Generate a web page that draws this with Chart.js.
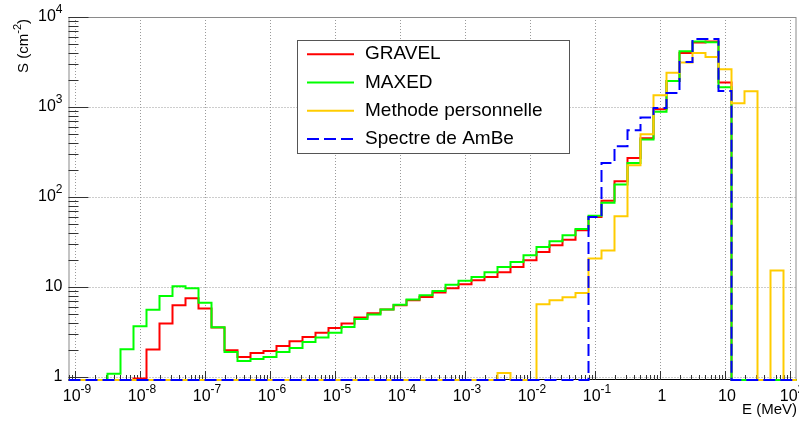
<!DOCTYPE html>
<html lang="fr">
<head>
<meta charset="UTF-8">
<title>Spectre neutronique</title>
<script src="https://cdn.jsdelivr.net/npm/chart.js"></script>
<style>
  html, body { margin: 0; padding: 0; background: #fff; }
  #wrap { width: 799px; height: 424px; }
</style>
</head>
<body>
<div id="wrap"><canvas id="spectre" width="799" height="424"></canvas></div>
<script>
// 56 bins, 0.2 decade wide, first edge at 10^-9.1 MeV
const binFirstExp = -9.1;
const binStepExp = 0.2;
const nBins = 56;

// bin contents (cm^-2), 0 = empty bin
const gravel = [
  0, 0, 0, 0, 0, 0.96, 2.02, 3.92, 6.27, 7.5,
  5.76, 3.54, 1.98, 1.67, 1.85, 1.94, 2.21, 2.49, 2.78, 3.11,
  3.5, 3.92, 4.57, 5.1, 5.61, 6.27, 7.13, 7.74, 8.66, 9.67,
  10.7, 11.9, 12.9, 14.6, 16.7, 19.8, 24.5, 29.1, 33.6, 42.7,
  60, 91, 150, 272, 450, 945, 1940, 3980, 5200, 5350,
  1870, 0, 0, 0, 0, 0
];
const maxed = [
  0, 0, 0, 1.09, 2.03, 3.66, 5.6, 7.94, 10.2, 9.7,
  6.7, 3.56, 1.9, 1.51, 1.58, 1.67, 1.9, 2.1, 2.45, 2.74,
  3.11, 3.59, 4.41, 4.94, 5.61, 6.37, 7.24, 8.08, 9.0, 10.6,
  11.7, 12.9, 14.6, 16.7, 18.9, 22.5, 27.8, 32.2, 37.7, 44.1,
  62, 86.5, 138, 239, 436, 883, 1940, 4170, 5330, 5250,
  1656, 0, 0, 0, 0, 0
];
const perso = [
  0, 0, 0, 0, 0, 0, 0, 0, 0, 0,
  0, 0, 0, 0, 0, 0, 0, 0, 0, 0,
  0, 0, 0, 0, 0, 0, 0, 0, 0, 0,
  0, 0, 0, 1.11, 0, 0, 6.43, 7.13, 7.68, 8.58,
  20.7, 25.5, 61, 226, 497, 1350, 2400, 3120, 3980, 3590,
  2620, 1100, 1500, 0, 15.3, 0
];
const ambe = [
  0, 0, 0, 0, 0, 0, 0, 0, 0, 0,
  0, 0, 0, 0, 0, 0, 0, 0, 0, 0,
  0, 0, 0, 0, 0, 0, 0, 0, 0, 0,
  0, 0, 0, 0, 0, 0, 0, 0, 0, 0,
  60, 239, 366, 552, 764, 976, 1433, 3160, 5710, 5710,
  1505, 0, 0, 0, 0, 0
];

const legendNames = ['GRAVEL', 'MAXED', 'Methode personnelle', 'Spectre de AmBe'];
const xDecades = [-9, -8, -7, -6, -5, -4, -3, -2, -1, 0, 1, 2];
const yDecades = [0, 1, 2, 3, 4];

const xMin = Math.pow(10, -9.1);
const xMax = Math.pow(10, 2.1);
const yMin = Math.pow(10, -1 / 30);
const yMax = 1e4;

const FONT = '"Liberation Sans", Arial, Helvetica, sans-serif';

// each bin becomes two points (left edge, right edge) so the line draws as a histogram
function histPoints(values) {
  const pts = [];
  for (let i = 0; i < nBins; i++) {
    const lo = Math.pow(10, binFirstExp + binStepExp * i);
    const hi = Math.pow(10, binFirstExp + binStepExp * (i + 1));
    const v = values[i] > yMin ? values[i] : yMin;
    pts.push({ x: lo, y: v }, { x: hi, y: v });
  }
  return pts;
}

function histDataset(label, values, color, order, dash) {
  return {
    label: label,
    data: histPoints(values),
    borderColor: color,
    backgroundColor: color,
    borderWidth: 2,
    borderDash: dash || [],
    borderJoinStyle: 'miter',
    pointRadius: 0,
    tension: 0,
    fill: false,
    clip: 3,
    order: order
  };
}

// draws "10" with a raised exponent; exp 0 -> "1", exp 1 -> "10"
function powerLabel(ctx, exp, x, y, align, size) {
  const base = exp === 0 ? '1' : '10';
  const sup = (exp === 0 || exp === 1) ? '' : String(exp);
  const supSize = Math.round(size * 0.75);
  ctx.font = size + 'px ' + FONT;
  const wb = ctx.measureText(base).width;
  ctx.font = supSize + 'px ' + FONT;
  const ws = sup ? ctx.measureText(sup).width : 0;
  const total = wb + ws;
  let x0 = align === 'right' ? x - total : x - total / 2;
  ctx.textAlign = 'left';
  ctx.textBaseline = 'middle';
  ctx.font = size + 'px ' + FONT;
  ctx.fillText(base, x0, y);
  if (sup) {
    ctx.font = supSize + 'px ' + FONT;
    ctx.fillText(sup, x0 + wb, y - size * 0.45);
  }
}

const rootFrame = {
  id: 'rootFrame',
  beforeDatasetsDraw(chart) {
    const { ctx, chartArea: a, scales: { x, y } } = chart;
    ctx.save();
    // dotted grid at each decade
    ctx.strokeStyle = '#9a9a9a';
    ctx.lineWidth = 1;
    ctx.setLineDash([1, 2]);
    xDecades.forEach(d => {
      const px = Math.round(x.getPixelForValue(Math.pow(10, d))) + 0.5;
      ctx.beginPath(); ctx.moveTo(px, a.top); ctx.lineTo(px, a.bottom); ctx.stroke();
    });
    yDecades.forEach(d => {
      const py = Math.round(y.getPixelForValue(Math.pow(10, d))) + 0.5;
      ctx.beginPath(); ctx.moveTo(a.left, py); ctx.lineTo(a.right, py); ctx.stroke();
    });
    ctx.setLineDash([]);

    // frame
    ctx.strokeStyle = '#8a8a8a';
    ctx.strokeRect(a.left + 0.5, a.top + 0.5, a.right - a.left - 1, a.bottom - a.top - 1);
    ctx.strokeStyle = '#000';
    ctx.beginPath(); ctx.moveTo(a.left, a.bottom - 0.5); ctx.lineTo(a.right, a.bottom - 0.5); ctx.stroke();

    // tick marks, drawn inward
    ctx.strokeStyle = '#333';
    for (let d = -10; d <= 2; d++) {
      for (let m = 1; m <= 9; m++) {
        const v = m * Math.pow(10, d);
        if (v < xMin || v > xMax) continue;
        const px = Math.round(x.getPixelForValue(v)) + 0.5;
        const len = m === 1 ? 9 : 5;
        ctx.beginPath(); ctx.moveTo(px, a.bottom); ctx.lineTo(px, a.bottom - len); ctx.stroke();
      }
    }
    for (let d = -1; d <= 4; d++) {
      for (let m = 1; m <= 9; m++) {
        const v = m * Math.pow(10, d);
        if (v < yMin || v > yMax) continue;
        const py = Math.round(y.getPixelForValue(v)) + 0.5;
        const len = m === 1 ? 20 : 10;
        ctx.beginPath(); ctx.moveTo(a.left, py); ctx.lineTo(a.left + len, py); ctx.stroke();
      }
    }
    ctx.restore();
  },
  afterDraw(chart) {
    const { ctx, chartArea: a, scales: { x, y } } = chart;
    ctx.save();
    ctx.fillStyle = '#000';

    // tick labels
    xDecades.forEach(d => powerLabel(ctx, d, x.getPixelForValue(Math.pow(10, d)) + 2, a.bottom + 17, 'center', 16));
    yDecades.forEach(d => powerLabel(ctx, d, a.left - 6, y.getPixelForValue(Math.pow(10, d)), 'right', 16));

    // axis titles
    ctx.font = '15px ' + FONT;
    ctx.textAlign = 'right';
    ctx.textBaseline = 'middle';
    ctx.fillText('E (MeV)', 797, a.bottom + 30);

    ctx.save();
    ctx.translate(24, 0);
    ctx.rotate(-Math.PI / 2);
    const p1 = 'S (cm', p2 = '-2', p3 = ')';
    ctx.font = '15px ' + FONT;
    const w1 = ctx.measureText(p1).width, w3 = ctx.measureText(p3).width;
    ctx.font = '11px ' + FONT;
    const w2 = ctx.measureText(p2).width;
    let u = -(19 + w1 + w2 + w3);
    ctx.textAlign = 'left';
    ctx.font = '15px ' + FONT;
    ctx.fillText(p1, u, 0);
    ctx.font = '11px ' + FONT;
    ctx.fillText(p2, u + w1, -6);
    ctx.font = '15px ' + FONT;
    ctx.fillText(p3, u + w1 + w2, 0);
    ctx.restore();

    // legend box
    const box = { l: 297, t: 40, r: 569, b: 153 };
    ctx.fillStyle = '#fff';
    ctx.fillRect(box.l, box.t, box.r - box.l, box.b - box.t);
    ctx.strokeStyle = '#555';
    ctx.lineWidth = 1;
    ctx.strokeRect(box.l + 0.5, box.t + 0.5, box.r - box.l, box.b - box.t);
    const rowH = (box.b - box.t) / legendNames.length;
    chart.data.datasets.forEach((ds, i) => {
      const ry = box.t + rowH * (i + 0.5);
      ctx.strokeStyle = ds.borderColor;
      ctx.lineWidth = 2;
      ctx.setLineDash(ds.borderDash);
      ctx.beginPath(); ctx.moveTo(307, ry); ctx.lineTo(354, ry); ctx.stroke();
      ctx.setLineDash([]);
      ctx.fillStyle = '#000';
      ctx.font = '19px ' + FONT;
      ctx.textAlign = 'left';
      ctx.textBaseline = 'middle';
      ctx.fillText(ds.label, 365, ry);
    });
    ctx.restore();
  }
};

new Chart(document.getElementById('spectre'), {
  type: 'line',
  data: {
    datasets: [
      histDataset(legendNames[0], gravel, '#ff0000', 4),
      histDataset(legendNames[1], maxed, '#00ff00', 3),
      histDataset(legendNames[2], perso, '#ffcc00', 2),
      histDataset(legendNames[3], ambe, '#0000ff', 1, [12, 5])
    ]
  },
  options: {
    responsive: false,
    animation: false,
    layout: { padding: { left: 0, right: 2.5, top: 17, bottom: 0 } },
    plugins: { legend: { display: false }, tooltip: { enabled: false } },
    scales: {
      x: {
        type: 'logarithmic', min: xMin, max: xMax,
        ticks: { display: false }, grid: { display: false }, border: { display: false },
        afterFit: s => { s.height = 44; }
      },
      y: {
        type: 'logarithmic', min: yMin, max: yMax,
        ticks: { display: false }, grid: { display: false }, border: { display: false },
        afterFit: s => { s.width = 68.5; }
      }
    }
  },
  plugins: [rootFrame]
});
</script>
</body>
</html>
